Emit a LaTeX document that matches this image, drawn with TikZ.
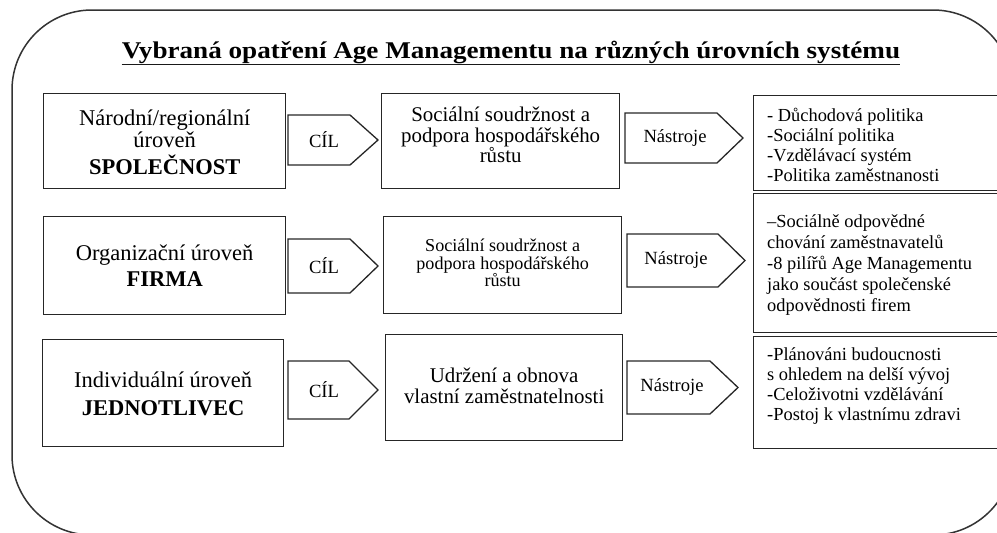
\documentclass[tikz,border=0pt]{standalone}
\usepackage{fontspec}
\setmainfont{Liberation Serif}
\newfontfamily\titlefont[FakeStretch=1.13]{Liberation Serif}
\begin{document}
\begin{tikzpicture}[x=1pt,y=-1pt,
  frame/.style={draw=black!80, line width=1.5pt, rounded corners=80pt},
  box/.style={draw=black!85, line width=1.3pt, inner sep=0pt},
  sig/.style={draw=black!85, line width=1.3pt, line join=miter},
  ltext/.style={align=center, inner sep=0pt, font=\fontsize{22.5}{22}\selectfont},
  mtext/.style={align=center, inner sep=0pt, font=\fontsize{20.9}{20.5}\selectfont},
  msmall/.style={align=center, inner sep=0pt, font=\fontsize{18.1}{17.5}\selectfont},
  rtext/.style={align=left, inner sep=0pt, anchor=west, font=\fontsize{18.4}{20}\selectfont},
  atext/.style={inner sep=0pt, font=\fontsize{18.6}{20}\selectfont},
  titlestyle/.style={inner sep=0pt, font=\titlefont\bfseries\fontsize{24}{26}\selectfont}]
\clip (0,0) rectangle (997,533);
\draw[frame] (12,10) rectangle (1013,535);

% title
\node[titlestyle, anchor=base] (title) at (511,58) {Vybraná opatření Age Managementu na různých úrovních systému};
\draw[line width=1.6pt, black!90] ([yshift=-1.2pt]title.south west) -- ([yshift=-1.2pt]title.south east);

% left boxes
\node[box, minimum width=242, minimum height=95, anchor=north west] (L1) at (43,93) {};
\node[box, minimum width=242, minimum height=98, anchor=north west] (L2) at (43,216) {};
\node[box, minimum width=241, minimum height=107, anchor=north west] (L3) at (42,339) {};
\node[ltext] (L1t) at ([yshift=-1pt]L1.center) {Národní/regionální\\úroveň\\[5pt]\textbf{SPOLEČNOST}};
\node[ltext] (L2t) at (L2.center) {Organizační úroveň\\[4pt]\textbf{FIRMA}};
\node[ltext] (L3t) at ([yshift=-1pt]L3.center) {Individuální úroveň\\[6pt]\textbf{JEDNOTLIVEC}};

% middle boxes
\node[box, minimum width=238, minimum height=95, anchor=north west] (M1) at (381,93) {};
\node[box, minimum width=238, minimum height=97, anchor=north west] (M2) at (383,216) {};
\node[box, minimum width=237, minimum height=106, anchor=north west] (M3) at (385,334) {};
\node[mtext] (M1t) at ([yshift=6pt]M1.center) {Sociální soudržnost a\\podpora hospodářského\\růstu};
\node[msmall] (M2t) at ([yshift=2pt]M2.center) {Sociální soudržnost a\\podpora hospodářského\\růstu};
\node[mtext] (M3t) at ([yshift=2pt]M3.center) {Udržení a obnova\\vlastní zaměstnatelnosti};

% right boxes
\node[box, minimum width=257, minimum height=95, anchor=north west] (R1) at (753,95) {};
\node[box, minimum width=257, minimum height=139, anchor=north west] (R2) at (753,193) {};
\node[box, minimum width=257, minimum height=112, anchor=north west] (R3) at (753,336) {};
\node[rtext] (R1t) at (767,145) {- Důchodová politika\\-Sociální politika\\-Vzdělávací systém\\-Politika zaměstnanosti};
\node[rtext, font=\fontsize{18.4}{21}\selectfont] (R2t) at (767,265) {–Sociálně odpovědné\\chování zaměstnavatelů\\-8 pilířů Age Managementu\\jako součást společenské\\odpovědnosti firem};
\node[rtext] (R3t) at (767,386) {-Plánováni budoucnosti\\s ohledem na delší vývoj\\-Celoživotni vzdělávání\\-Postoj k vlastnímu zdravi};

% CIL pentagons
\draw[sig] (288,115) -- (350,115) -- (378,140) -- (350,165) -- (288,165) -- cycle;
\draw[sig] (288,239) -- (350,239) -- (378,266) -- (350,293) -- (288,293) -- cycle;
\draw[sig] (288,361) -- (349,361) -- (378,390) -- (349,419) -- (288,419) -- cycle;
\node[atext] (C1) at (324,140) {CÍL};
\node[atext] (C2) at (324,266) {CÍL};
\node[atext] (C3) at (324,390) {CÍL};

% Nastroje pentagons
\draw[sig] (625,113) -- (717,113) -- (743,138) -- (717,163) -- (625,163) -- cycle;
\draw[sig] (627,234) -- (718,234) -- (745,260.5) -- (718,287) -- (627,287) -- cycle;
\draw[sig] (627,361) -- (710,361) -- (738,387.5) -- (710,414) -- (627,414) -- cycle;
\node[atext] (N1) at (675,138) {Nástroje};
\node[atext] (N2) at (676,260.5) {Nástroje};
\node[atext] (N3) at (672,387.5) {Nástroje};
\end{tikzpicture}
\end{document}
